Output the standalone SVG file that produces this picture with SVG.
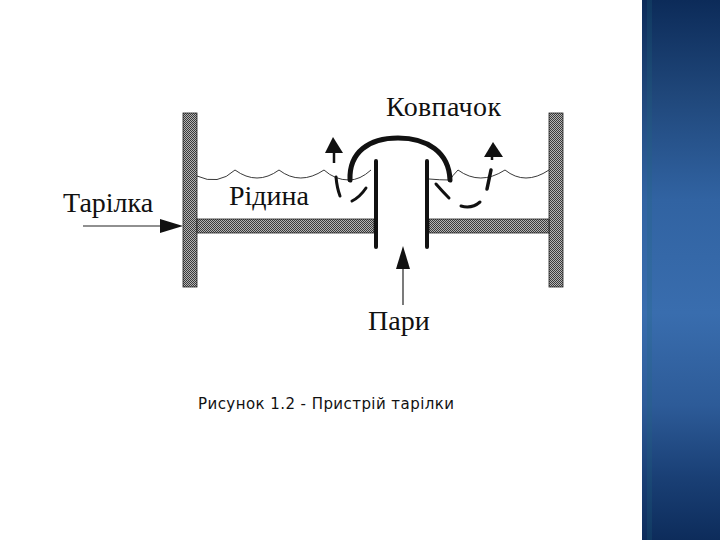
<svg xmlns="http://www.w3.org/2000/svg" width="720" height="540" viewBox="0 0 720 540">
<style>
.serif{font-family:"Liberation Serif","Times New Roman",serif;fill:#111;font-size:28px}
.wall{fill:url(#hatch);stroke:#222;stroke-width:.8}
.thick{fill:none;stroke:#111;stroke-linecap:round}
.wave{fill:none;stroke:#222;stroke-width:.9}
.thin{stroke:#222;stroke-width:1.2;fill:none}
.head{fill:#111}
</style>
<defs>
<pattern id="hatch" width="2" height="2" patternUnits="userSpaceOnUse">
<rect width="2" height="2" fill="#b4b4b4"/><rect width="1" height="1" fill="#3a3a3a"/><rect x="1" y="1" width="1" height="1" fill="#3a3a3a"/>
</pattern>
<linearGradient id="blue" x1="0" y1="0" x2="0" y2="1">
<stop offset="0" stop-color="#0c2b59"/><stop offset=".17" stop-color="#1f4679"/><stop offset=".37" stop-color="#3163a2"/><stop offset=".58" stop-color="#396dae"/><stop offset=".75" stop-color="#2d5b98"/><stop offset=".88" stop-color="#1a4076"/><stop offset="1" stop-color="#0d2c5b"/>
</linearGradient>
</defs>
<rect width="720" height="540" fill="#fff"/>
<g id="panel">
<rect x="642" y="0" width="78" height="540" fill="url(#blue)"/>
<rect x="647" y="0" width="5" height="540" fill="#1f6a7a" opacity=".22"/>
</g>
<g id="tray">
<rect class="wall" x="183" y="113" width="14" height="174"/>
<rect class="wall" x="549" y="113" width="14" height="174"/>
<rect class="wall" x="197" y="219" width="177" height="14"/>
<rect class="wall" x="429" y="219" width="120" height="14"/>
</g>
<g id="liquid">
<path class="wave" d="M197 176Q218 186 235 170Q257 186 279 170Q300 186 324 170Q335 180 349 180Q360 180 371 170"/>
<path class="wave" d="M429 179Q440 180 450 180Q452 176 458 170Q480 186 505 170Q525 186 549 170"/>
</g>
<g id="cap">
<path class="thick" stroke-width="5" d="M350 180C349 152 369 138 398 138C427 138 449 152 450 180"/>
<line class="thick" stroke-width="4" x1="376" y1="161" x2="376" y2="247"/>
<line class="thick" stroke-width="4" x1="427" y1="161" x2="427" y2="247"/>
</g>
<g id="connectors">
<line class="thin" x1="83" y1="226" x2="170" y2="226"/><path class="head" d="M183 226L160 219L160 233Z"/>
<line class="thin" x1="403" y1="305" x2="403" y2="268"/><path class="head" d="M403 246L396 269L410 269Z"/>
<line x1="334" y1="163" x2="334" y2="150" stroke="#111" stroke-width="2.5"/><path class="head" d="M333 137L325 153L343 153Z"/>
<line x1="492" y1="160" x2="492" y2="154" stroke="#111" stroke-width="2.5"/><path class="head" d="M493 142L484 157L503 157Z"/>
<path class="thick" stroke-width="3" d="M336 177Q337 188 340 196"/>
<path class="thick" stroke-width="3" d="M352 201Q360 197 366 188"/>
<path class="thick" stroke-width="3" d="M436 184Q443 192 449 198"/>
<path class="thick" stroke-width="3" d="M461 206Q472 209 480 202"/>
<path class="thick" stroke-width="3.5" d="M491 170L487 189"/>
</g>
<g id="labels">
<text class="serif" x="63" y="212">Тарілка</text>
<text class="serif" x="229" y="205">Рідина</text>
<text class="serif" x="386" y="116" textLength="115">Ковпачок</text>
<text class="serif" x="368" y="330">Пари</text>
<text x="198" y="409" font-size="15" font-family="'DejaVu Sans',sans-serif" fill="#111" textLength="256">Рисунок 1.2 - Пристрій тарілки</text>
</g>
</svg>
